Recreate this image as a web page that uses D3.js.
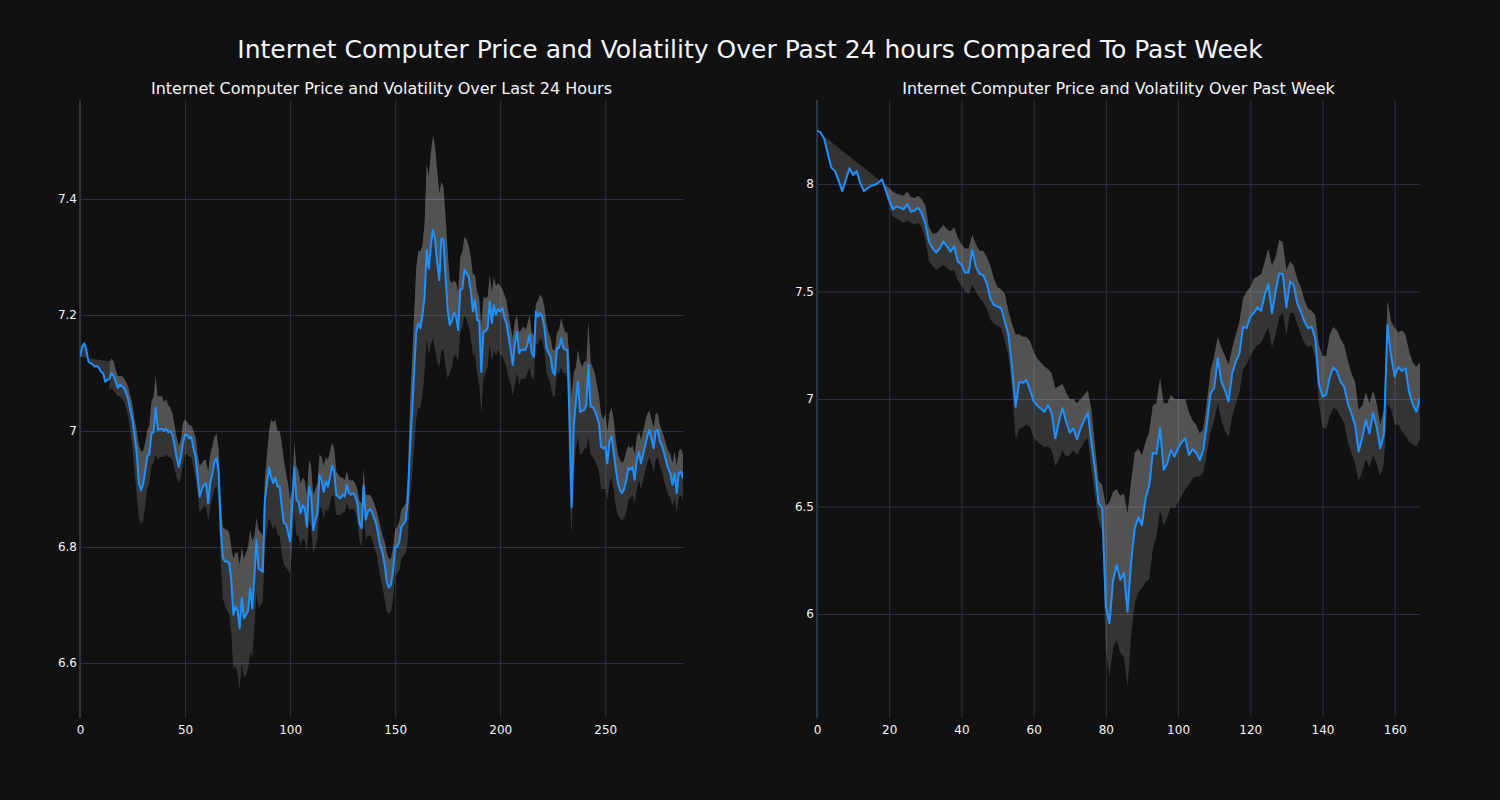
<!DOCTYPE html>
<html><head><meta charset="utf-8">
<script src="https://cdn.jsdelivr.net/npm/d3@7"></script>
<style>html,body{margin:0;padding:0;background:#111111;}svg{display:block;}</style>
</head><body>
<svg id="chart" width="1500" height="800"></svg>
<script>
const mainTitle = "Internet Computer Price and Volatility Over Past 24 hours Compared To Past Week";
const leftTitle = "Internet Computer Price and Volatility Over Last 24 Hours";
const rightTitle = "Internet Computer Price and Volatility Over Past Week";

// Left panel (5-minute steps over 24h)
const leftBandStart = 14;
const leftPrice = [7.128,7.145,7.151,7.14,7.12,7.117,7.115,7.111,7.112,7.109,7.102,7.10,7.085,7.088,7.09,7.10,7.095,7.085,7.074,7.08,
7.077,7.074,7.065,7.053,7.035,7.019,6.99,6.962,6.91,6.898,6.907,6.93,6.956,6.96,6.996,6.998,7.041,7.002,7.003,7.004,
7.0,7.004,6.998,7.0,6.993,6.975,6.955,6.938,6.955,6.98,6.993,6.993,6.987,6.99,6.97,6.956,6.921,6.887,6.9,6.907,
6.91,6.875,6.91,6.927,6.947,6.953,6.93,6.829,6.781,6.775,6.775,6.772,6.743,6.683,6.697,6.69,6.66,6.712,6.677,6.683,
6.69,6.729,6.694,6.75,6.812,6.763,6.76,6.757,6.881,6.91,6.937,6.92,6.91,6.92,6.904,6.905,6.87,6.841,6.84,6.826,
6.809,6.87,6.937,6.881,6.878,6.858,6.872,6.866,6.835,6.904,6.89,6.829,6.845,6.858,6.924,6.915,6.895,6.913,6.904,6.921,
6.94,6.93,6.89,6.886,6.884,6.89,6.887,6.907,6.893,6.89,6.893,6.888,6.875,6.841,6.832,6.905,6.847,6.861,6.866,6.86,
6.85,6.84,6.82,6.80,6.79,6.77,6.74,6.73,6.735,6.76,6.80,6.80,6.81,6.835,6.84,6.845,6.88,6.964,7.03,7.1,
7.17,7.186,7.177,7.2,7.23,7.312,7.28,7.32,7.347,7.33,7.29,7.26,7.332,7.329,7.266,7.209,7.183,7.19,7.204,7.197,
7.174,7.243,7.246,7.278,7.272,7.265,7.243,7.206,7.226,7.191,7.19,7.102,7.171,7.172,7.177,7.223,7.186,7.217,7.2,7.21,
7.206,7.212,7.195,7.186,7.163,7.14,7.114,7.151,7.171,7.134,7.14,7.14,7.14,7.15,7.166,7.134,7.128,7.206,7.197,7.203,
7.197,7.18,7.143,7.135,7.128,7.102,7.097,7.143,7.143,7.16,7.143,7.14,7.14,7.02,6.869,7.008,7.05,7.085,7.033,7.035,
7.036,7.045,7.114,7.042,7.042,7.035,7.025,7.013,6.973,6.97,6.973,6.944,6.982,6.991,6.964,6.935,6.91,6.898,6.893,6.9,
6.915,6.936,6.933,6.938,6.916,6.95,6.964,6.944,6.96,6.975,6.99,7.002,6.987,6.97,6.999,7.002,6.982,6.975,6.962,6.948,
6.935,6.927,6.907,6.927,6.893,6.927,6.93,6.918];
const leftUpper = [7.12,7.125,7.12,7.105,7.095,7.095,7.095,7.09,7.085,7.075,7.06,7.045,7.02,7.0,6.975,6.965,6.965,6.98,7.0,7.01,
7.05,7.06,7.095,7.06,7.06,7.06,7.05,7.055,7.045,7.04,7.03,7.01,6.99,6.975,6.985,7.015,7.02,7.015,7.01,7.01,
7.0,6.99,6.96,6.94,6.945,6.95,6.95,6.93,6.96,6.975,6.99,6.995,6.97,6.88,6.835,6.83,6.83,6.825,6.80,6.78,
6.79,6.79,6.77,6.80,6.78,6.79,6.80,6.83,6.81,6.82,6.85,6.83,6.825,6.82,6.92,6.96,7.0,7.02,7.015,7.02,
7.0,7.0,6.98,6.95,6.93,6.91,6.88,6.9,6.98,6.94,6.93,6.91,6.92,6.915,6.89,6.95,6.94,6.89,6.9,6.91,
6.96,6.955,6.94,6.955,6.95,6.965,6.98,6.97,6.93,6.925,6.92,6.92,6.915,6.93,6.915,6.915,6.915,6.91,6.90,6.88,
6.875,6.935,6.89,6.89,6.89,6.885,6.875,6.865,6.85,6.835,6.82,6.81,6.79,6.78,6.78,6.8,6.83,6.835,6.845,6.865,
6.87,6.875,6.92,7.04,7.12,7.2,7.28,7.31,7.31,7.32,7.36,7.46,7.44,7.48,7.51,7.49,7.45,7.41,7.43,7.42,
7.37,7.31,7.26,7.255,7.26,7.255,7.24,7.3,7.31,7.335,7.33,7.32,7.3,7.27,7.27,7.24,7.23,7.18,7.23,7.23,
7.23,7.27,7.24,7.265,7.25,7.255,7.25,7.245,7.235,7.225,7.2,7.18,7.16,7.19,7.2,7.17,7.175,7.18,7.175,7.185,
7.2,7.17,7.165,7.22,7.225,7.235,7.23,7.215,7.185,7.17,7.16,7.14,7.14,7.17,7.175,7.195,7.18,7.17,7.17,7.12,
7.06,7.1,7.11,7.14,7.12,7.11,7.12,7.12,7.19,7.12,7.11,7.1,7.08,7.06,7.03,7.02,7.03,7.0,7.03,7.04,
7.02,6.985,6.96,6.95,6.945,6.95,6.965,6.975,6.97,6.975,6.96,6.99,7.0,6.985,7.0,7.015,7.03,7.035,7.02,7.005,
7.03,7.03,7.01,7.0,6.99,6.975,6.965,6.96,6.945,6.965,6.94,6.965,6.97,6.96];
const leftLower = [7.07,7.075,7.07,7.065,7.06,7.06,7.055,7.05,7.04,7.025,7.0,6.97,6.93,6.89,6.85,6.84,6.845,6.87,6.9,6.91,
6.94,6.945,6.96,6.95,6.955,6.955,6.955,6.96,6.955,6.955,6.95,6.935,6.92,6.91,6.92,6.945,6.96,6.96,6.955,6.955,
6.935,6.92,6.89,6.86,6.865,6.87,6.87,6.845,6.87,6.885,6.9,6.905,6.88,6.77,6.71,6.7,6.69,6.685,6.65,6.59,
6.595,6.58,6.555,6.6,6.575,6.58,6.59,6.62,6.61,6.66,6.72,6.695,6.7,6.705,6.8,6.83,6.85,6.84,6.83,6.84,
6.82,6.82,6.79,6.77,6.765,6.76,6.755,6.8,6.86,6.82,6.82,6.8,6.815,6.81,6.79,6.845,6.835,6.79,6.8,6.815,
6.87,6.865,6.85,6.865,6.86,6.875,6.89,6.885,6.855,6.855,6.855,6.86,6.86,6.875,6.865,6.865,6.865,6.86,6.845,6.81,
6.8,6.855,6.81,6.82,6.82,6.815,6.8,6.79,6.77,6.745,6.73,6.71,6.69,6.685,6.69,6.71,6.75,6.755,6.76,6.78,
6.785,6.79,6.81,6.88,6.92,6.97,7.02,7.04,7.04,7.06,7.1,7.16,7.13,7.15,7.16,7.14,7.12,7.11,7.14,7.14,
7.11,7.09,7.1,7.11,7.13,7.13,7.12,7.17,7.18,7.2,7.19,7.18,7.16,7.13,7.13,7.1,7.08,7.03,7.09,7.1,
7.11,7.15,7.12,7.14,7.13,7.14,7.13,7.13,7.12,7.11,7.09,7.08,7.06,7.08,7.1,7.08,7.09,7.09,7.09,7.1,
7.11,7.09,7.09,7.15,7.15,7.16,7.155,7.14,7.1,7.09,7.08,7.06,7.06,7.1,7.1,7.11,7.1,7.1,7.09,6.9,
6.82,6.92,6.97,6.99,6.96,6.96,6.97,6.97,6.99,6.96,6.955,6.95,6.94,6.93,6.9,6.9,6.9,6.88,6.91,6.92,
6.9,6.87,6.855,6.85,6.845,6.85,6.86,6.88,6.885,6.89,6.875,6.9,6.915,6.9,6.915,6.93,6.945,6.955,6.945,6.93,
6.95,6.955,6.94,6.93,6.915,6.9,6.89,6.885,6.87,6.885,6.86,6.885,6.89,6.88];
const leftXTicks = [0,50,100,150,200,250];
const leftYTicks = [6.6,6.8,7,7.2,7.4];
const leftYLabels = ["6.6","6.8","7","7.2","7.4"];

// Right panel (hourly steps over a week)
const rightBandStart = 19;
const rightPrice = [8.248,8.24,8.21,8.14,8.075,8.06,8.015,7.966,8.02,8.073,8.042,8.06,8.003,7.967,7.98,7.992,7.995,8.006,8.022,7.972,
7.926,7.882,7.895,7.89,7.882,7.907,7.871,7.876,7.891,7.863,7.817,7.732,7.701,7.681,7.70,7.732,7.71,7.685,7.71,7.639,
7.624,7.588,7.588,7.693,7.616,7.581,7.577,7.538,7.468,7.437,7.43,7.422,7.36,7.30,7.15,6.964,7.08,7.075,7.088,7.042,
6.99,6.97,6.955,6.941,6.972,6.933,6.817,6.894,6.957,6.894,6.843,6.863,6.812,6.863,6.902,6.936,6.794,6.67,6.515,6.492,
6.034,5.957,6.158,6.228,6.158,6.192,6.011,6.243,6.398,6.45,6.414,6.538,6.595,6.75,6.745,6.863,6.67,6.701,6.763,6.732,
6.77,6.8,6.817,6.74,6.766,6.75,6.716,6.763,6.887,7.026,7.05,7.189,7.08,7.04,6.988,7.12,7.174,7.212,7.336,7.33,
7.383,7.40,7.426,7.41,7.484,7.535,7.398,7.499,7.584,7.58,7.426,7.546,7.53,7.445,7.406,7.36,7.329,7.336,7.28,7.073,
7.011,7.019,7.10,7.147,7.13,7.08,7.057,6.98,6.933,6.88,6.755,6.82,6.902,6.84,6.936,6.87,6.77,6.84,7.344,7.2,
7.104,7.15,7.13,7.143,7.03,6.975,6.941,7.003];
const rightUpper = [7.995,7.98,7.965,7.955,7.95,7.945,7.965,7.94,7.935,7.945,7.93,7.9,7.80,7.77,7.77,7.79,7.81,7.79,7.78,7.80,
7.75,7.72,7.70,7.70,7.765,7.72,7.69,7.69,7.66,7.62,7.56,7.52,7.51,7.49,7.41,7.35,7.3,7.3,7.29,7.29,
7.27,7.22,7.19,7.17,7.15,7.14,7.12,7.05,7.06,7.07,7.03,7.0,7.0,6.98,7.0,7.02,7.04,6.95,6.78,6.62,
6.6,6.5,6.52,6.57,6.58,6.55,6.56,6.47,6.62,6.75,6.77,6.74,6.8,6.85,6.97,6.98,7.1,6.98,6.98,7.02,
7.0,7.0,7.0,7.0,6.94,6.9,6.88,6.84,6.86,6.99,7.13,7.2,7.29,7.24,7.2,7.16,7.24,7.3,7.36,7.47,
7.5,7.52,7.56,7.57,7.58,7.64,7.7,7.62,7.66,7.74,7.73,7.6,7.64,7.62,7.56,7.52,7.46,7.42,7.41,7.39,
7.25,7.2,7.2,7.3,7.335,7.32,7.28,7.25,7.18,7.12,7.08,6.95,6.97,7.03,6.98,7.04,6.98,6.88,6.95,7.46,
7.36,7.33,7.31,7.32,7.3,7.22,7.17,7.15,7.17];
const rightLower = [7.95,7.90,7.85,7.84,7.83,7.82,7.83,7.82,7.81,7.82,7.8,7.74,7.64,7.62,7.60,7.61,7.625,7.61,7.595,7.6,
7.55,7.53,7.5,7.49,7.53,7.5,7.47,7.45,7.42,7.37,7.35,7.34,7.33,7.27,7.2,7.05,6.81,6.86,6.87,6.88,
6.87,6.82,6.80,6.79,6.775,6.78,6.76,6.69,6.72,6.76,6.73,6.74,6.76,6.74,6.77,6.8,6.82,6.67,6.55,6.43,
6.38,5.83,5.71,5.84,5.88,5.82,5.80,5.66,5.9,6.05,6.1,6.12,6.15,6.16,6.3,6.36,6.48,6.41,6.45,6.5,
6.49,6.52,6.55,6.58,6.6,6.63,6.64,6.64,6.66,6.75,6.85,6.9,6.98,6.9,6.85,6.825,6.92,6.98,7.03,7.14,
7.16,7.2,7.23,7.25,7.26,7.3,7.33,7.24,7.3,7.38,7.4,7.3,7.4,7.4,7.35,7.3,7.26,7.24,7.25,7.19,
6.98,6.87,6.86,6.92,6.96,6.95,6.92,6.89,6.8,6.75,6.7,6.62,6.66,6.72,6.68,6.74,6.7,6.64,6.7,6.98,
6.95,6.88,6.88,6.85,6.83,6.8,6.79,6.78,6.81];
const rightXTicks = [0,20,40,60,80,100,120,140,160];
const rightYTicks = [6,6.5,7,7.5,8];
const rightYLabels = ["6","6.5","7","7.5","8"];

const FONT = "'DejaVu Sans', Verdana, sans-serif";
const TEXT = "#f2f5fa";
const GRID = "#283442";
const LINE = "#1e90ff";
const BAND = "rgba(255,255,255,0.15)";

const svg = d3.select("#chart");
svg.append("rect").attr("width",1500).attr("height",800).attr("fill","#111111");

svg.append("text").attr("x",750).attr("y",58).attr("text-anchor","middle")
  .attr("font-family",FONT).attr("font-size",25).attr("fill",TEXT).text(mainTitle);

function panel(opt){
  const g = svg.append("g");
  const x = d3.scaleLinear().domain(opt.xDomain).range([opt.left, opt.right]);
  const y = d3.scaleLinear().domain(opt.yDomain).range([opt.bottom, opt.top]);

  // grid
  const gy = d3.axisLeft(y).tickValues(opt.yTicks).tickSize(-(opt.right-opt.left)).tickFormat("");
  g.append("g").attr("transform",`translate(${opt.left},0)`).call(gy)
    .call(s=>{s.select(".domain").remove(); s.selectAll("line").attr("stroke",GRID).attr("stroke-width",1);});
  const gx = d3.axisBottom(x).tickValues(opt.xTicks.filter(v=>v!==0)).tickSize(-(opt.bottom-opt.top)).tickFormat("");
  g.append("g").attr("transform",`translate(0,${opt.bottom})`).call(gx)
    .call(s=>{s.select(".domain").remove(); s.selectAll("line").attr("stroke",GRID).attr("stroke-width",1);});
  // zero line at x=0
  g.append("line").attr("x1",x(0)).attr("x2",x(0)).attr("y1",opt.top).attr("y2",opt.bottom)
    .attr("stroke",GRID).attr("stroke-width",2);

  const price = opt.price.map((v,i)=>[i,v]);
  const s = opt.bandStart;
  const upper = opt.upper.map((v,i)=>[i+s,v]);
  const lower = opt.lower.map((v,i)=>[i+s,v]);
  const ln = d3.line().x(d=>x(d[0])).y(d=>y(d[1]));
  const clipId = "clip"+opt.id;
  svg.append("clipPath").attr("id",clipId).append("rect")
    .attr("x",opt.left).attr("y",opt.top).attr("width",opt.right-opt.left).attr("height",opt.bottom-opt.top);
  const pg = g.append("g").attr("clip-path",`url(#${clipId})`);
  // upper fill to price (tonexty)
  pg.append("path").attr("d", ln(upper.concat(price.slice().reverse()))+"Z").attr("fill",BAND).attr("stroke","none");
  // lower fill to upper (tonexty)
  pg.append("path").attr("d", ln(lower.concat(upper.slice().reverse()))+"Z").attr("fill",BAND).attr("stroke","none");
  pg.append("path").attr("d", ln(price)).attr("fill","none").attr("stroke",LINE).attr("stroke-width",2)
    .attr("stroke-linejoin","round");

  // tick labels
  const ay = d3.axisLeft(y).tickValues(opt.yTicks).tickSize(0).tickPadding(3)
    .tickFormat((d,i)=>opt.yLabels[i]);
  g.append("g").attr("transform",`translate(${opt.left},0)`).call(ay)
    .call(s=>{s.select(".domain").remove(); s.selectAll("text").attr("fill",TEXT).attr("font-family",FONT).attr("font-size",12);});
  const ax = d3.axisBottom(x).tickValues(opt.xTicks).tickSize(0).tickPadding(7).tickFormat(d3.format("d"));
  g.append("g").attr("transform",`translate(0,${opt.bottom})`).call(ax)
    .call(s=>{s.select(".domain").remove(); s.selectAll("text").attr("fill",TEXT).attr("font-family",FONT).attr("font-size",12);});

  g.append("text").attr("x",(opt.left+opt.right)/2).attr("y",opt.top-6).attr("text-anchor","middle")
    .attr("font-family",FONT).attr("font-size",16).attr("fill",TEXT).text(opt.title);
}

panel({id:"L", left:80, right:683, top:100, bottom:718, xDomain:[0,287], yDomain:[6.5052,7.5707],
  price:leftPrice, upper:leftUpper, lower:leftLower, bandStart:leftBandStart,
  xTicks:leftXTicks, yTicks:leftYTicks, yLabels:leftYLabels, title:leftTitle});
panel({id:"R", left:817, right:1420, top:100, bottom:718, xDomain:[0,167], yDomain:[5.5163,8.3907],
  price:rightPrice, upper:rightUpper, lower:rightLower, bandStart:rightBandStart,
  xTicks:rightXTicks, yTicks:rightYTicks, yLabels:rightYLabels, title:rightTitle});
</script>
</body></html>
